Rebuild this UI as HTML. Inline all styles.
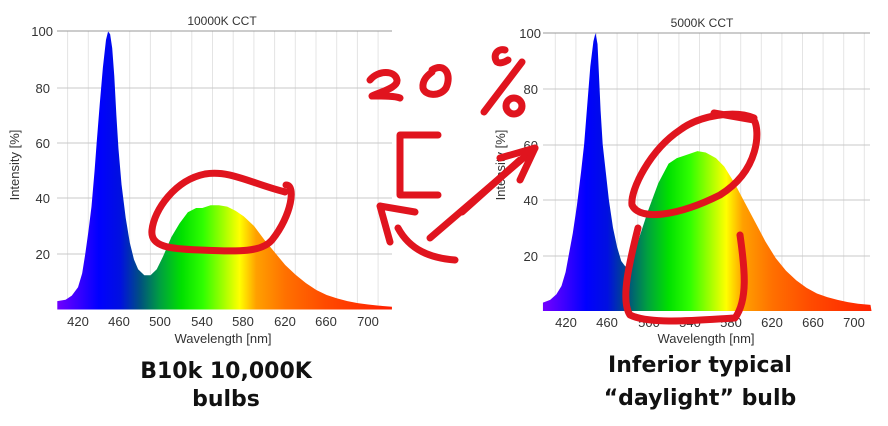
<!DOCTYPE html>
<html><head><meta charset="utf-8"><style>
html,body{margin:0;padding:0;background:#fff;}
svg{display:block;}
.t{font-family:"Liberation Sans",sans-serif;fill:#333;}
.b{font-family:"DejaVu Sans","Liberation Sans",sans-serif;font-weight:bold;fill:#111;}
</style></head><body>
<svg width="888" height="426" viewBox="0 0 888 426" xmlns="http://www.w3.org/2000/svg">
<defs>
<linearGradient id="sp" gradientUnits="userSpaceOnUse" x1="400" y1="0" x2="720" y2="0">
<stop offset="0" stop-color="#7000ff"/><stop offset="0.0625" stop-color="#3a00ff"/>
<stop offset="0.125" stop-color="#0000ff"/><stop offset="0.19" stop-color="#0010e0"/>
<stop offset="0.25" stop-color="#005080"/><stop offset="0.31" stop-color="#00a040"/>
<stop offset="0.375" stop-color="#00e000"/><stop offset="0.44" stop-color="#30ff00"/>
<stop offset="0.5" stop-color="#a0ff00"/><stop offset="0.55" stop-color="#ffff00"/>
<stop offset="0.6" stop-color="#ffa000"/><stop offset="0.69" stop-color="#ff7000"/>
<stop offset="0.81" stop-color="#ff4a00"/><stop offset="1" stop-color="#ff2000"/>
</linearGradient>
</defs>

<!-- LEFT CHART -->
<g stroke="#e4e4e4" stroke-width="1">
<line x1="67.6" y1="31" x2="67.6" y2="309"/><line x1="88.3" y1="31" x2="88.3" y2="309"/><line x1="109" y1="31" x2="109" y2="309"/><line x1="129.7" y1="31" x2="129.7" y2="309"/><line x1="150.4" y1="31" x2="150.4" y2="309"/><line x1="171.1" y1="31" x2="171.1" y2="309"/><line x1="191.8" y1="31" x2="191.8" y2="309"/><line x1="212.5" y1="31" x2="212.5" y2="309"/><line x1="233.2" y1="31" x2="233.2" y2="309"/><line x1="253.9" y1="31" x2="253.9" y2="309"/><line x1="274.6" y1="31" x2="274.6" y2="309"/><line x1="295.3" y1="31" x2="295.3" y2="309"/><line x1="316" y1="31" x2="316" y2="309"/><line x1="336.7" y1="31" x2="336.7" y2="309"/><line x1="357.4" y1="31" x2="357.4" y2="309"/><line x1="378.1" y1="31" x2="378.1" y2="309"/>
</g>
<g stroke="#c8c8c8"><line x1="57" y1="254" x2="392" y2="254"/><line x1="57" y1="198" x2="392" y2="198"/><line x1="57" y1="143" x2="392" y2="143"/><line x1="57" y1="88" x2="392" y2="88"/></g>
<line x1="57" y1="31" x2="392" y2="31" stroke="#999"/>
<g transform="translate(57.3,309.5) scale(1.036,-2.78) translate(-400,0)">
<path fill="url(#sp)" d="M400,0 L400,3 L408,3.5 L414,5 L420,8 L424,13 L427,20 L430,28 L433,37 L436,50 L438,60 L441,74 L444,87 L447,97 L449,100 L451,99 L453,94 L455,84 L457,70 L459,58 L462,45 L466,33 L470,24 L474,18 L478,14.5 L484,12.3 L490,12.3 L496,14.5 L502,19 L510,26 L518,31 L526,35 L534,36.5 L540,36.5 L548,37.5 L556,37.5 L564,37 L572,35.5 L580,33.5 L590,30 L600,25 L610,20.5 L620,16 L630,12.5 L640,9.5 L650,7 L660,5.2 L670,4 L680,3 L690,2.3 L700,1.8 L710,1.4 L723,1 L723,0 Z"/>
</g>
<g class="t" font-size="13" text-anchor="end"><text x="53" y="36">100</text><text x="50" y="93">80</text><text x="50" y="148">60</text><text x="50" y="203">40</text><text x="50" y="259">20</text></g>
<g class="t" font-size="13" text-anchor="middle"><text x="78" y="326">420</text><text x="119" y="326">460</text><text x="160" y="326">500</text><text x="202" y="326">540</text><text x="243" y="326">580</text><text x="285" y="326">620</text><text x="326" y="326">660</text><text x="368" y="326">700</text></g>
<text class="t" font-size="13" x="223" y="343" text-anchor="middle">Wavelength [nm]</text>
<text class="t" font-size="12" x="222" y="25" text-anchor="middle">10000K CCT</text>
<text class="t" font-size="13" transform="translate(19,165) rotate(-90)" text-anchor="middle">Intensity [%]</text>
<text class="b" font-size="22" x="226" y="378" text-anchor="middle">B10k 10,000K</text>
<text class="b" font-size="22" x="226" y="406" text-anchor="middle">bulbs</text>

<!-- RIGHT CHART -->
<g stroke="#e4e4e4" stroke-width="1">
<line x1="555.3" y1="33" x2="555.3" y2="311"/><line x1="575.9" y1="33" x2="575.9" y2="311"/><line x1="596.5" y1="33" x2="596.5" y2="311"/><line x1="617.1" y1="33" x2="617.1" y2="311"/><line x1="637.7" y1="33" x2="637.7" y2="311"/><line x1="658.3" y1="33" x2="658.3" y2="311"/><line x1="678.9" y1="33" x2="678.9" y2="311"/><line x1="699.5" y1="33" x2="699.5" y2="311"/><line x1="720.1" y1="33" x2="720.1" y2="311"/><line x1="740.7" y1="33" x2="740.7" y2="311"/><line x1="761.3" y1="33" x2="761.3" y2="311"/><line x1="781.9" y1="33" x2="781.9" y2="311"/><line x1="802.5" y1="33" x2="802.5" y2="311"/><line x1="823.1" y1="33" x2="823.1" y2="311"/><line x1="843.7" y1="33" x2="843.7" y2="311"/><line x1="864.3" y1="33" x2="864.3" y2="311"/>
</g>
<g stroke="#c8c8c8"><line x1="543" y1="256" x2="870" y2="256"/><line x1="543" y1="200" x2="870" y2="200"/><line x1="543" y1="145" x2="870" y2="145"/><line x1="543" y1="89" x2="870" y2="89"/></g>
<line x1="543" y1="33" x2="870" y2="33" stroke="#999"/>
<g transform="translate(545,311) scale(1.03,-2.78) translate(-400,0)">
<path fill="url(#sp)" d="M398,0 L398,3 L405,4 L411,6 L416,9 L420,14 L423,20 L427,28 L431,38 L435,50 L438,60 L441,74 L444,88 L447,97 L449,100 L451,96 L452,88 L454,72 L456,60 L459,50 L462,40 L466,30 L470,23 L474,18 L478,16 L482,17.5 L486,20 L492,27 L500,36 L510,46 L520,53 L528,55 L536,56 L548,57.5 L556,57 L566,55 L574,52 L584,46 L594,39 L604,32 L614,25 L624,19 L634,14.5 L644,11 L654,8.3 L664,6.3 L674,5 L684,4 L694,3.2 L704,2.6 L716,2.2 L717,0 Z"/>
</g>
<g class="t" font-size="13" text-anchor="end"><text x="541" y="38">100</text><text x="538" y="94">80</text><text x="538" y="150">60</text><text x="538" y="205">40</text><text x="538" y="261">20</text></g>
<g class="t" font-size="13" text-anchor="middle"><text x="566" y="327">420</text><text x="607" y="327">460</text><text x="649" y="327">500</text><text x="690" y="327">540</text><text x="731" y="327">580</text><text x="772" y="327">620</text><text x="813" y="327">660</text><text x="854" y="327">700</text></g>
<text class="t" font-size="13" x="706" y="343" text-anchor="middle">Wavelength [nm]</text>
<text class="t" font-size="12" x="702" y="27" text-anchor="middle">5000K CCT</text>
<text class="t" font-size="13" transform="translate(505,165) rotate(-90)" text-anchor="middle">Intensity [%]</text>
<text class="b" font-size="22" x="700" y="372" text-anchor="middle">Inferior typical</text>
<text class="b" font-size="22" x="700" y="405" text-anchor="middle">“daylight” bulb</text>

<!-- RED ANNOTATIONS -->
<g fill="none" stroke="#e0141e" stroke-width="7" stroke-linecap="round" stroke-linejoin="round">
<path d="M286,185 C296,185 292,215 272,240 C262,252 240,252 200,250 C170,249 150,247 152,230 C154,210 175,180 205,174 C230,170 250,183 285,192"/>
<path d="M370,80 C378,70 395,70 397,80 C398,88 380,92 372,96 C385,96 395,96 400,98"/>
<path d="M432,70 C445,62 452,75 446,88 C440,97 425,96 423,88 C422,80 428,75 432,72"/>
<path d="M505,50 C498,48 492,55 497,62 C500,64 505,62 508,60"/>
<path d="M522,62 L484,112"/>
<circle cx="514" cy="106" r="8"/>
<path d="M438,135 L400,135 L400,195 L438,195"/>
<path d="M415,212 L380,206 L390,242"/>
<path d="M398,228 C410,250 430,258 455,260"/>
<path d="M430,238 L535,148"/>
<path d="M462,212 L520,160"/>
<path d="M500,158 L535,148 L520,180"/>
<path d="M754,118 C735,110 700,115 680,130 C650,150 630,190 632,205 C640,222 680,215 720,195 C760,170 760,130 754,120 L714,113"/>
<path d="M638,228 C630,260 620,300 630,315 C650,325 700,320 735,318 C748,300 745,270 740,235"/>
</g>
</svg>
</body></html>
